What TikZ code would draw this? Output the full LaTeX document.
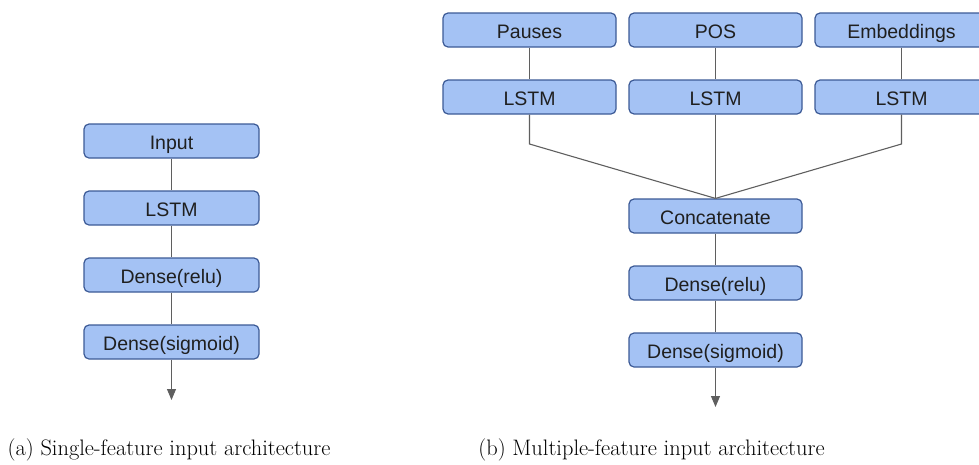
\documentclass[tikz,border=0pt]{standalone}
\usepackage{fontspec}
\newfontfamily\boxfont{Liberation Sans}
\usetikzlibrary{arrows.meta}
\definecolor{boxfill}{HTML}{A4C2F4}
\definecolor{boxdraw}{HTML}{3C5A96}
\definecolor{linegray}{HTML}{5F5F5F}
\tikzset{
  layer/.style={draw=boxdraw, fill=boxfill, line width=1.2pt, rounded corners=5pt,
    minimum height=34pt, inner sep=0pt, text height=16pt, text depth=0pt,
    font=\boxfont\fontsize{19.5}{22}\selectfont, text=black!88},
  lw/.style={layer, minimum width=175pt},
  rw/.style={layer, minimum width=173pt},
  conn/.style={draw=linegray, line width=1.1pt},
  outarrow/.style={conn, -{Triangle[width=9pt,length=11pt]}},
  caption/.style={font=\fontsize{22.4}{26}\selectfont, anchor=base}
}
\begin{document}
\begin{tikzpicture}[x=1pt,y=-1pt]
\useasboundingbox (0,0) rectangle (979,464);
% left
\node[lw] (in) at (171.5,141) {Input};
\node[lw] (l1) at (171.5,208) {LSTM};
\node[lw] (d1) at (171.5,275) {Dense(relu)};
\node[lw] (s1) at (171.5,342) {Dense(sigmoid)};
\coordinate (o1) at (171.5,400);
\draw[conn] (in) -- (l1);
\draw[conn] (l1) -- (d1);
\draw[conn] (d1) -- (s1);
\draw[outarrow] (s1) -- (o1);
% right
\node[rw] (pa) at (529.5,30) {Pauses};
\node[rw] (po) at (715.5,30) {POS};
\node[rw] (em) at (901.5,30) {Embeddings};
\node[rw] (lp) at (529.5,97) {LSTM};
\node[rw] (lo) at (715.5,97) {LSTM};
\node[rw] (le) at (901.5,97) {LSTM};
\node[rw] (cc) at (715.5,216) {Concatenate};
\node[rw] (d2) at (715.5,283) {Dense(relu)};
\node[rw] (s2) at (715.5,350) {Dense(sigmoid)};
\coordinate (kp) at (529.5,144);
\coordinate (ke) at (901.5,144);
\coordinate (o2) at (715.5,407);
\draw[conn] (pa) -- (lp);
\draw[conn] (po) -- (lo);
\draw[conn] (em) -- (le);
\draw[conn] (lp) -- (kp) -- (cc.north);
\draw[conn] (lo) -- (cc);
\draw[conn] (le) -- (ke) -- (cc.north);
\draw[conn] (cc) -- (d2);
\draw[conn] (d2) -- (s2);
\draw[outarrow] (s2) -- (o2);
% captions
\node[caption] (ca) at (169,455) {(a) Single-feature input architecture};
\node[caption] (cb) at (651.5,455) {(b) Multiple-feature input architecture};
\end{tikzpicture}
\end{document}
